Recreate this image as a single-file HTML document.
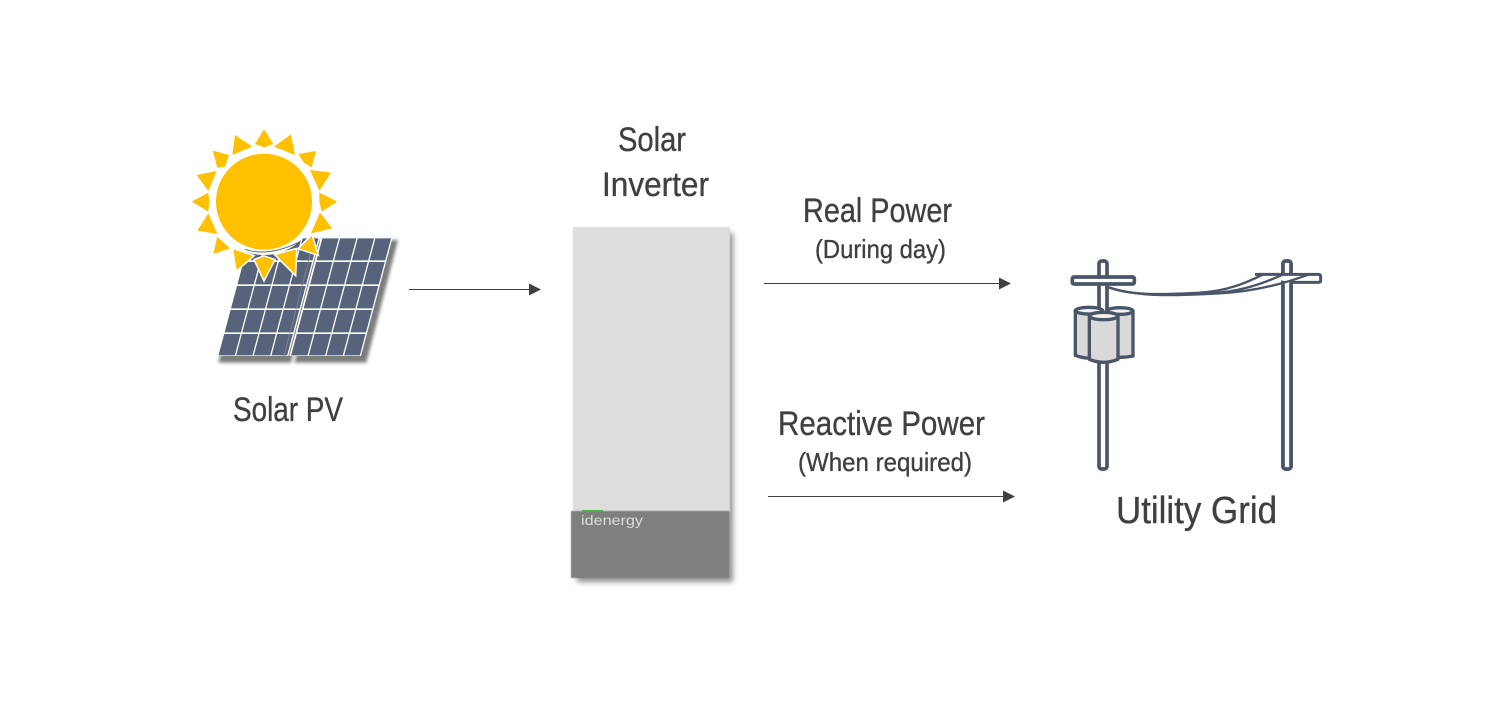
<!DOCTYPE html>
<html lang="en">
<head>
<meta charset="utf-8">
<title>Solar PV, inverter and utility grid power flow</title>
<style>
html,body{margin:0;padding:0;background:#fff;width:1506px;height:702px;overflow:hidden}
svg{display:block}
text{font-family:"Liberation Sans",sans-serif;fill:#404040;stroke:#404040;stroke-width:.35}
</style>
</head>
<body>
<svg width="1506" height="702" viewBox="0 0 1506 702" xmlns="http://www.w3.org/2000/svg">
<defs>
<filter id="b1" x="-20%" y="-20%" width="140%" height="140%"><feGaussianBlur stdDeviation="3"/></filter>
<filter id="b2" x="-20%" y="-20%" width="140%" height="140%"><feGaussianBlur stdDeviation="5"/></filter>
<filter id="b3" x="-5%" y="-5%" width="110%" height="110%"><feGaussianBlur stdDeviation=".5"/></filter>
<g id="cells" fill="#56637a">
<rect x="5" y="3" width="49" height="66"/><rect x="58" y="3" width="49" height="66"/><rect x="111" y="3" width="49" height="66"/><rect x="164" y="3" width="47" height="66"/>
<rect x="5" y="74" width="49" height="67"/><rect x="58" y="74" width="49" height="67"/><rect x="111" y="74" width="49" height="67"/><rect x="164" y="74" width="47" height="67"/>
<rect x="5" y="146" width="49" height="67"/><rect x="58" y="146" width="49" height="67"/><rect x="111" y="146" width="49" height="67"/><rect x="164" y="146" width="47" height="67"/>
<rect x="5" y="218" width="49" height="67"/><rect x="58" y="218" width="49" height="67"/><rect x="111" y="218" width="49" height="67"/><rect x="164" y="218" width="47" height="67"/>
<rect x="5" y="290" width="49" height="64"/><rect x="58" y="290" width="49" height="64"/><rect x="111" y="290" width="49" height="64"/><rect x="164" y="290" width="47" height="64"/>
</g>
</defs>

<!-- Solar PV -->
<g transform="translate(180 120) scale(.33333)">
<polygon points="440,360 654,360 559,728 343,728" fill="#444" opacity=".7" filter="url(#b2)"/>
<polygon points="218,360 428,360 333,728 115,728" fill="#444" opacity=".7" filter="url(#b2)"/>
<g transform="translate(205 352) skewX(-14.95)"><rect width="215" height="356" fill="#fff"/><use href="#cells"/></g>
<g transform="translate(423 352) skewX(-14.95)"><rect width="215" height="356" fill="#fff"/><use href="#cells"/></g>
<path d="M404 352L312 708" stroke="#8a8a8a" stroke-width="3" opacity=".8"/>
<circle cx="252" cy="245" r="160" fill="#fff"/>
<path d="M195 388Q265 412 360 365" fill="none" stroke="#666" stroke-width="3"/>
<circle cx="252" cy="245" r="144" fill="#ffc000"/>
<g fill="#ffc000" stroke="#fff" stroke-width="9" stroke-linejoin="miter" paint-order="stroke">
<polygon points="252,28 280,72 252,82 225,72"/>
<polygon points="333,43 345,105 282,80"/>
<polygon points="408,93 395,142 372,128 355,102"/>
<polygon points="390,150 453,158 418,212"/>
<polygon points="472,245 425,275 418,245 418,218"/>
<polygon points="420,277 456,325 393,340"/>
<polygon points="395,348 412,403 358,385"/>
<polygon points="288,405 348,388 345,462"/>
<polygon points="252,478 225,420 252,410 282,420"/>
<polygon points="160,388 218,408 170,450"/>
<polygon points="112,350 150,385 100,402"/>
<polygon points="85,280 112,342 52,332"/>
<polygon points="35,245 85,218 88,245 85,275"/>
<polygon points="50,165 110,153 85,213"/>
<polygon points="98,92 147,105 135,140 112,143"/>
<polygon points="165,45 217,80 157,105"/>
</g>
</g>
<text x="233" y="421" font-size="34" textLength="110" lengthAdjust="spacingAndGlyphs">Solar PV</text>

<!-- Inverter -->
<rect x="577" y="233" width="156" height="349" fill="#555" opacity=".65" filter="url(#b1)"/>
<rect x="573" y="227" width="157" height="285" fill="#dddddd" filter="url(#b3)"/>
<rect x="571" y="511" width="158" height="67" fill="#7f7f7f" filter="url(#b3)"/>
<rect x="582" y="510" width="21" height="1.6" fill="#4fb04a"/>
<text x="581" y="525" font-size="14" textLength="62" lengthAdjust="spacingAndGlyphs" style="fill:#dcdcdc;stroke:none">idenergy</text>
<text x="618" y="151" font-size="34" textLength="68" lengthAdjust="spacingAndGlyphs">Solar</text>
<text x="602" y="196" font-size="34" textLength="107" lengthAdjust="spacingAndGlyphs">Inverter</text>

<!-- Arrows -->
<g stroke="#404040" stroke-width="1.1">
<line x1="409" y1="289.5" x2="531" y2="289.5"/>
<line x1="764" y1="283.5" x2="1001" y2="283.5"/>
<line x1="768" y1="496.5" x2="1005" y2="496.5"/>
</g>
<g fill="#404040">
<polygon points="529,283.5 541,289.5 529,295.5"/>
<polygon points="999,277.5 1011,283.5 999,289.5"/>
<polygon points="1003,490.5 1015,496.5 1003,502.5"/>
</g>
<text x="803" y="222" font-size="34" textLength="149" lengthAdjust="spacingAndGlyphs">Real Power</text>
<text x="815" y="258" font-size="26" textLength="131" lengthAdjust="spacingAndGlyphs">(During day)</text>
<text x="778" y="435" font-size="34" textLength="207" lengthAdjust="spacingAndGlyphs">Reactive Power</text>
<text x="798" y="471" font-size="26" textLength="174" lengthAdjust="spacingAndGlyphs">(When required)</text>

<!-- Utility grid -->
<g transform="translate(1060 250) scale(.33333)" stroke="#4a5568" stroke-width="11" stroke-linejoin="round">
<rect x="117" y="33" width="24" height="624" rx="8" fill="#fff"/>
<rect x="669" y="33" width="24" height="624" rx="8" fill="#fff"/>
<rect x="37" y="81" width="186" height="21" rx="5" fill="#fff"/>
<rect x="669" y="33" width="24" height="624" rx="8" fill="#fff"/>
<path d="M585 73H775Q782 73 782 80V91Q782 97 775 97H690" fill="#fff" stroke-width="9"/>
<g fill="none" stroke-width="7">
<path d="M146 112C220 140 330 132 420 128C500 124 560 98 608 74"/>
<path d="M146 112C230 142 350 134 450 130C540 126 610 100 668 74"/>
<path d="M146 112C240 144 370 136 480 130C590 124 680 98 745 74"/>
</g>
<g fill="#d9d9d9">
<path d="M140 183V312Q165 328 219 318V183Z" stroke-width="10"/>
<ellipse cx="180" cy="183" rx="39" ry="10" fill="#f1f1f1" stroke-width="10"/>
<path d="M46 182V316Q85 332 128 318V182Z" stroke-width="10"/>
<ellipse cx="87" cy="182" rx="41" ry="10" fill="#f1f1f1" stroke-width="10"/>
<path d="M88 198V328Q130 346 174 328V198Z" stroke-width="10"/>
<ellipse cx="131" cy="198" rx="43" ry="11" fill="#f1f1f1" stroke-width="10"/>
</g>
</g>
<text x="1116" y="523" font-size="38" textLength="161" lengthAdjust="spacingAndGlyphs">Utility Grid</text>
</svg>
</body>
</html>
